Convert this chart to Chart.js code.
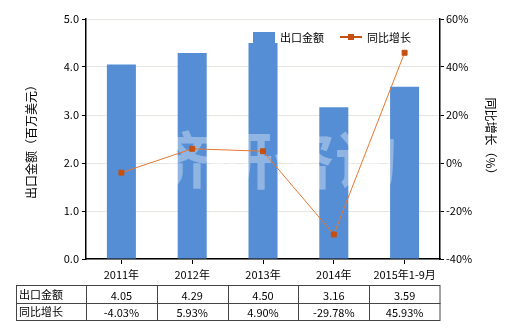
<!DOCTYPE html>
<html>
<head>
<meta charset="utf-8">
<script src="https://cdn.jsdelivr.net/npm/chart.js@4.4.0/dist/chart.umd.min.js"></script>
<style>
  body { margin: 0; background: #fff; }
  #wrap { width: 520px; height: 330px; position: relative; }
</style>
</head>
<body>
<div id="wrap"><canvas id="grafico" width="520" height="330"></canvas></div>
<script>
// dados do gráfico
const categorias = ['2011年', '2012年', '2013年', '2014年', '2015年1-9月'];
const exportValor = [4.05, 4.29, 4.50, 3.16, 3.59];
const crescimento = [-4.03, 5.93, 4.90, -29.78, 45.93];
const rotuloValor = ['4.05', '4.29', '4.50', '3.16', '3.59'];
const rotuloCresc = ['-4.03%', '5.93%', '4.90%', '-29.78%', '45.93%'];

const FONTE = '"Noto Sans CJK SC", "Noto Sans", sans-serif';
const AZUL = '#558ED5';
const LARANJA = '#E8762D';
const MARCADOR = '#C5500F';

// marca d'água, legenda e tabela desenhadas à mão
const extras = {
    id: 'extras',
    beforeDatasetDraw(chart, args) {
        // marca d'água por cima das barras, antes da linha
        if (args.index !== 0) return;
        const ctx = chart.ctx;
        const a = chart.chartArea;
        ctx.save();
        ctx.fillStyle = 'rgba(255,255,255,0.35)';
        ctx.font = 'bold 62px ' + FONTE;
        ctx.textAlign = 'center';
        ctx.textBaseline = 'middle';
        ctx.fillText('济研咨询', (a.left + a.right) / 2 + 10, 160);
        ctx.restore();
    },
    afterDraw(chart) {
        const ctx = chart.ctx;
        const x = chart.scales.x;
        ctx.save();

        // legenda
        ctx.fillStyle = AZUL;
        ctx.fillRect(253, 32, 22, 11);
        ctx.fillStyle = '#000';
        ctx.font = '11px ' + FONTE;
        ctx.textBaseline = 'middle';
        ctx.textAlign = 'left';
        ctx.fillText('出口金额', 280, 38);
        ctx.strokeStyle = MARCADOR;
        ctx.lineWidth = 2;
        ctx.beginPath();
        ctx.moveTo(340, 37);
        ctx.lineTo(362, 37);
        ctx.stroke();
        ctx.fillStyle = MARCADOR;
        ctx.fillRect(348, 34, 6, 6);
        ctx.fillStyle = '#000';
        ctx.fillText('同比增长', 367, 38);

        // tabela
        const topo = 285.5, meio = 303.5, base = 320.5;
        const esq = 16.5;
        const passo = (x.right - x.left) / categorias.length;
        ctx.strokeStyle = '#444';
        ctx.lineWidth = 1;
        ctx.strokeRect(esq, topo, x.right - esq, base - topo);
        ctx.beginPath();
        ctx.moveTo(esq, meio);
        ctx.lineTo(x.right + 0.5, meio);
        for (let i = 0; i < categorias.length; i++) {
            const xx = Math.round(x.left + passo * i) + 0.5;
            ctx.moveTo(xx, topo);
            ctx.lineTo(xx, base);
        }
        ctx.stroke();

        ctx.fillStyle = '#000';
        ctx.font = '11px ' + FONTE;
        ctx.textAlign = 'left';
        ctx.fillText('出口金额', 19, (topo + meio) / 2);
        ctx.fillText('同比增长', 19, (meio + base) / 2);
        ctx.textAlign = 'center';
        for (let i = 0; i < categorias.length; i++) {
            const cx = x.getPixelForValue(i);
            ctx.fillText(rotuloValor[i], cx, (topo + meio) / 2 + 1);
            ctx.fillText(rotuloCresc[i], cx, (meio + base) / 2 + 1);
        }
        ctx.restore();
    }
};

const ctx = document.getElementById('grafico').getContext('2d');

new Chart(ctx, {
    data: {
        labels: categorias,
        datasets: [
            {
                type: 'line',
                label: '同比增长',
                data: crescimento,
                yAxisID: 'y1',
                borderColor: LARANJA,
                borderWidth: 1,
                pointStyle: 'rect',
                pointRadius: 3.5,
                pointBackgroundColor: MARCADOR,
                pointBorderColor: MARCADOR,
                tension: 0,
                order: 0
            },
            {
                type: 'bar',
                label: '出口金额',
                data: exportValor,
                yAxisID: 'y',
                backgroundColor: AZUL,
                barPercentage: 0.41,
                categoryPercentage: 1,
                order: 1
            }
        ]
    },
    options: {
        responsive: false,
        animation: false,
        layout: { padding: { left: 0, right: 0, top: 19, bottom: 0 } },
        plugins: {
            legend: { display: false },
            tooltip: { enabled: false }
        },
        scales: {
            x: {
                offset: true,
                grid: { offset: false, drawOnChartArea: false, tickLength: 5, tickColor: '#000' },
                border: { color: '#000', width: 1.5 },
                ticks: { color: '#000', font: { family: FONTE, size: 11 }, padding: 4, maxRotation: 0 },
                afterFit(s) { s.height = 71; }
            },
            y: {
                position: 'left',
                min: 0,
                max: 5,
                ticks: {
                    stepSize: 1,
                    color: '#000',
                    font: { family: FONTE, size: 11 },
                    padding: 3,
                    callback: v => v.toFixed(1)
                },
                grid: { color: '#E6E6E0', tickLength: 4, tickColor: '#000' },
                border: { color: '#000', width: 1.5 },
                title: {
                    display: true,
                    text: '出口金额（百万美元）',
                    color: '#000',
                    font: { family: FONTE, size: 12 },
                    padding: { top: 24, bottom: 0 }
                },
                afterFit(s) { s.width = 86; }
            },
            y1: {
                position: 'right',
                min: -40,
                max: 60,
                ticks: {
                    stepSize: 20,
                    color: '#000',
                    font: { family: FONTE, size: 11 },
                    padding: 2,
                    callback: v => v + '%'
                },
                grid: { drawOnChartArea: false, tickLength: 4, tickColor: '#000' },
                border: { color: '#000', width: 1.5 },
                title: {
                    display: true,
                    text: '同比增长（%）',
                    color: '#000',
                    font: { family: FONTE, size: 12 },
                    padding: { top: 22, bottom: 0 }
                },
                afterFit(s) { s.width = 80; }
            }
        }
    },
    plugins: [extras]
});
</script>
</body>
</html>
